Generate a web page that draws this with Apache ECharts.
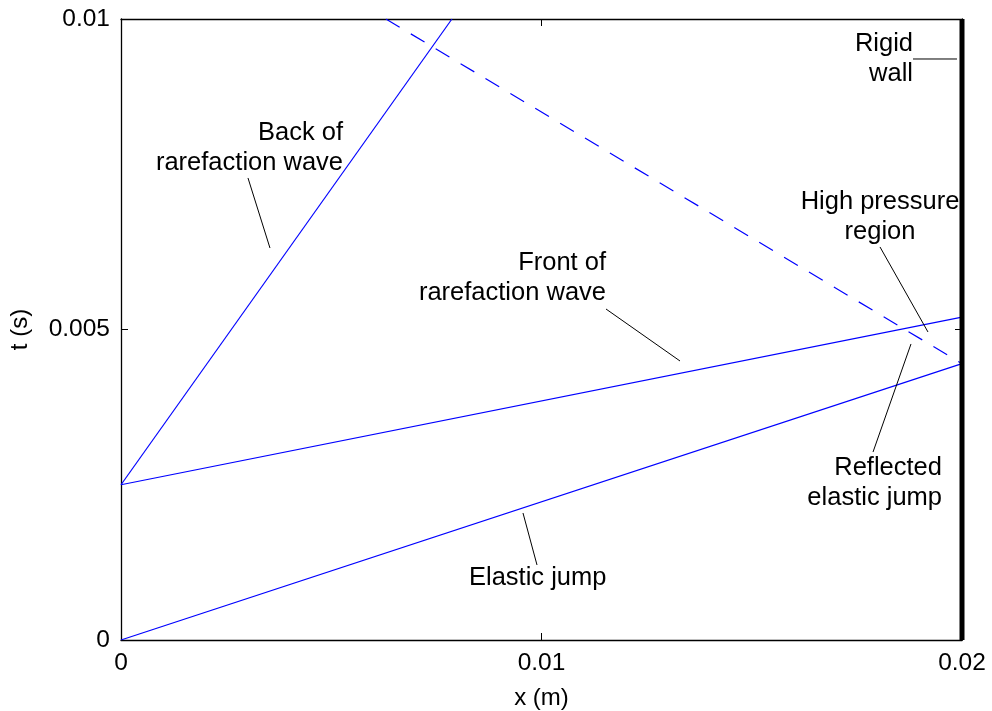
<!DOCTYPE html>
<html>
<head>
<meta charset="utf-8">
<script src="https://cdn.jsdelivr.net/npm/echarts@6/dist/echarts.min.js"></script>
<style>html,body{margin:0;padding:0;background:#fff}#c{width:992px;height:711px}</style>
</head>
<body>
<div id="c"></div>
<script>
// Wave lines (x in m, t in s)
const elasticX = [0, 0.02];
const elasticT = [0, 0.00445];
const frontX = [0, 0.02];
const frontT = [0.0025, 0.0052];
const backX = [0, 0.00787];
const backT = [0.0025, 0.01];
const reflectedX = [0.0063, 0.02];
const reflectedT = [0.01, 0.00445];
const wallX = [0.02, 0.02];
const wallT = [0, 0.01];

// Tick labels
const xTicks = ['0', '0.01', '0.02'];
const yTicks = ['0', '0.005', '0.01'];

// Annotation labels: text, anchor x, anchor t, alignment
const noteText = ['Back of\nrarefaction wave', 'Front of\nrarefaction wave', 'Rigid\nwall', 'High pressure\nregion', 'Reflected\nelastic jump', 'Elastic jump'];
const noteX = [0.00528, 0.011534, 0.018835, 0.01805, 0.019524, 0.008276];
const noteT = [0.007923, 0.005829, 0.009356, 0.006812, 0.002528, 0.000998];
const noteAlign = ['right', 'right', 'right', 'center', 'right', 'left'];

// Annotation pointer lines: [x1, t1, x2, t2]
const pointerBack = [0.00302, 0.00744, 0.003543, 0.006312];
const pointerFront = [0.011534, 0.00533, 0.013294, 0.004493];
const pointerWall = [0.018835, 0.009356, 0.019881, 0.009356];
const pointerHigh = [0.01805, 0.006329, 0.019191, 0.00496];
const pointerRefl = [0.017884, 0.003027, 0.018787, 0.004767];
const pointerElastic = [0.00956, 0.002045, 0.009893, 0.001208];

const FONT = '"Liberation Sans", Arial, sans-serif';
const zip = (xs, ys) => xs.map((x, i) => [x, ys[i]]);
const blue = '#0000ff';

function waveSeries(xs, ts, dashed) {
  return {
    type: 'line', data: zip(xs, ts), symbol: 'none', silent: true,
    lineStyle: { color: blue, width: 1.2, type: dashed ? [16, 13] : 'solid' },
    z: 3
  };
}
function pointerSeries(p) {
  return {
    type: 'line', data: [[p[0], p[1]], [p[2], p[3]]], symbol: 'none', silent: true,
    lineStyle: { color: '#000', width: 1 }, z: 4
  };
}

const noteSeries = noteText.map((txt, i) => ({
  type: 'scatter', symbolSize: 0, silent: true,
  itemStyle: { opacity: 1 },
  data: [[noteX[i], noteT[i]]],
  label: {
    show: true, position: [0, 0], formatter: txt,
    align: noteAlign[i], verticalAlign: 'middle', opacity: 1,
    fontFamily: FONT, fontSize: 25.5, lineHeight: 30, color: '#000',
    textBorderWidth: 0
  },
  z: 5
}));

function makeAxis(pos, min, max, interval, extra) {
  return Object.assign({
    type: 'value', position: pos, min: min, max: max, interval: interval,
    splitLine: { show: false },
    axisLine: { show: true, onZero: false, lineStyle: { color: '#000', width: 1.3 } },
    axisTick: { show: true, inside: true, length: 7, lineStyle: { color: '#000', width: 1 } },
    axisLabel: { show: false }
  }, extra || {});
}

const chart = echarts.init(document.getElementById('c'), null, { renderer: 'canvas' });
chart.setOption({
  backgroundColor: '#fff',
  animation: false,
  grid: { left: 121, right: 30, top: 19, bottom: 71, containLabel: false, outerBoundsMode: 'none' },
  xAxis: [
    makeAxis('bottom', 0, 0.02, 0.01, {
      name: 'x (m)', nameLocation: 'middle', nameGap: 46,
      nameTextStyle: { fontFamily: FONT, fontSize: 24, color: '#000' },
      axisLabel: { show: true, inside: false, margin: 11, fontFamily: FONT, fontSize: 24.5, color: '#000',
        formatter: (v) => xTicks[Math.round(v / 0.01)] }
    }),
    makeAxis('top', 0, 0.02, 0.01)
  ],
  yAxis: [
    makeAxis('left', 0, 0.01, 0.005, {
      name: 't (s)', nameLocation: 'middle', nameGap: 89,
      nameTextStyle: { fontFamily: FONT, fontSize: 24, color: '#000' },
      axisLabel: { show: true, inside: false, margin: 11, fontFamily: FONT, fontSize: 24.5, color: '#000',
        formatter: (v) => yTicks[Math.round(v / 0.005)] }
    }),
    makeAxis('right', 0, 0.01, 0.005)
  ],
  series: [
    waveSeries(elasticX, elasticT, false),
    waveSeries(frontX, frontT, false),
    waveSeries(backX, backT, false),
    waveSeries(reflectedX, reflectedT, true),
    {
      type: 'line', data: zip(wallX, wallT), symbol: 'none', silent: true, clip: false,
      lineStyle: { color: '#000', width: 5 }, z: 6
    },
    pointerSeries(pointerBack),
    pointerSeries(pointerFront),
    pointerSeries(pointerWall),
    pointerSeries(pointerHigh),
    pointerSeries(pointerRefl),
    pointerSeries(pointerElastic)
  ].concat(noteSeries)
});
</script>
</body>
</html>
